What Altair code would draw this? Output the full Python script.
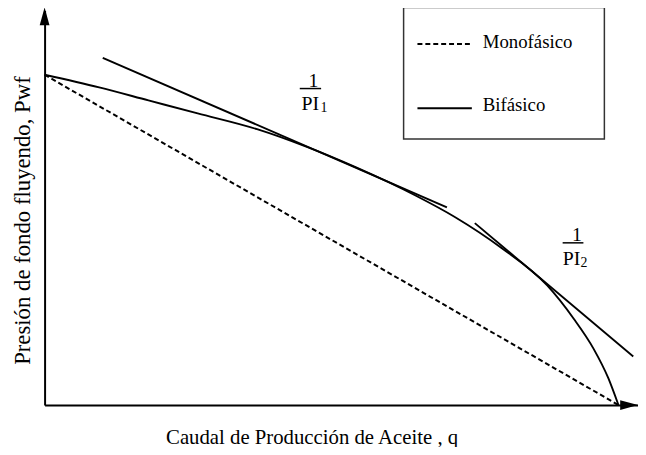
import altair as alt
import pandas as pd

# ---- data (arbitrary units, 0-100) ----
q_mono = [0, 96.7]
pwf_mono = [83.7, 0]

q_bif = [0, 9.2, 17.5, 25.8, 35.8, 44.2, 52.5, 62.5, 69.2, 77.0, 84.7, 89.2, 92.5, 95.0, 96.7]
pwf_bif = [83.7, 80.5, 77.2, 73.9, 69.9, 65.4, 60.2, 53.1, 47.6, 39.8, 30.3, 21.8, 14.3, 6.8, 0]

tangent_ids = ["PI1", "PI1", "PI2", "PI2"]
q_tan = [9.8, 67.8, 72.5, 99.2]
pwf_tan = [88.0, 50.1, 46.1, 12.3]

legend_labels = ["Monofásico", "Bifásico"]
x_title = "Caudal de Producción de Aceite , q"
y_title = "Presión de fondo fluyendo, Pwf"

FONT = "Liberation Serif"

df_mono = pd.DataFrame({"q": q_mono, "pwf": pwf_mono})
df_bif = pd.DataFrame({"q": q_bif, "pwf": pwf_bif})
df_tan = pd.DataFrame({"q": q_tan, "pwf": pwf_tan, "id": tangent_ids})

xs = alt.Scale(domain=[0, 100], nice=False, zero=False)
ys = alt.Scale(domain=[0, 100], nice=False, zero=False)

x_axis = alt.Axis(
    title=x_title, domain=True, domainColor="black", domainWidth=2,
    ticks=False, labels=False, grid=False,
    titleFont=FONT, titleFontSize=21, titleFontWeight="normal", titleColor="black",
    titleX=270, titleY=33, titleAlign="center", titleBaseline="middle",
)
y_axis = alt.Axis(
    title=y_title, domain=True, domainColor="black", domainWidth=2,
    ticks=False, labels=False, grid=False,
    titleFont=FONT, titleFontSize=23, titleFontWeight="normal", titleColor="black",
    titleX=-22, titleY=212, titleAngle=270, titleAlign="center", titleBaseline="middle",
)

mono = alt.Chart(df_mono).mark_line(color="black", strokeWidth=2, strokeDash=[5, 3]).encode(
    x=alt.X("q:Q", scale=xs, axis=x_axis),
    y=alt.Y("pwf:Q", scale=ys, axis=y_axis),
)

bif = alt.Chart(df_bif).mark_line(color="black", strokeWidth=1.9, interpolate="monotone").encode(
    x=alt.X("q:Q", scale=xs),
    y=alt.Y("pwf:Q", scale=ys),
)

tan = alt.Chart(df_tan).mark_line(color="black", strokeWidth=1.9).encode(
    x=alt.X("q:Q", scale=xs),
    y=alt.Y("pwf:Q", scale=ys),
    detail="id:N",
)

# axis arrowheads (tip at the data point)
arrow_y = alt.Chart(pd.DataFrame({"q": [0], "pwf": [100.75]})).mark_point(
    shape="M0,0L0.55,2L-0.55,2Z", size=324, filled=True, color="black", opacity=1
).encode(x=alt.X("q:Q", scale=xs), y=alt.Y("pwf:Q", scale=ys))
arrow_x = alt.Chart(pd.DataFrame({"q": [100], "pwf": [0]})).mark_point(
    shape="M0,0L-2,-0.55L-2,0.55Z", size=324, filled=True, color="black", opacity=1
).encode(x=alt.X("q:Q", scale=xs), y=alt.Y("pwf:Q", scale=ys))

# slope annotations 1/PI1 and 1/PI2
ann_num = pd.DataFrame({"q": [45.3, 89.7], "pwf": [82.0, 43.1], "t": ["1", "1"]})
ann_den = pd.DataFrame({"q": [43.3, 87.3], "pwf": [76.3, 37.0], "t": ["PI", "PI"]})
ann_sub = pd.DataFrame({"q": [46.5, 90.3], "pwf": [75.2, 36.0], "t": ["1", "2"]})
ann_bar = pd.DataFrame({"q": [43.0, 87.3], "q2": [46.6, 90.8], "pwf": [80.2, 41.1]})

num = alt.Chart(ann_num).mark_text(font=FONT, fontSize=20, color="black", baseline="middle", align="center").encode(
    x=alt.X("q:Q", scale=xs), y=alt.Y("pwf:Q", scale=ys), text="t:N")
den = alt.Chart(ann_den).mark_text(font=FONT, fontSize=20, color="black", baseline="middle", align="left").encode(
    x=alt.X("q:Q", scale=xs), y=alt.Y("pwf:Q", scale=ys), text="t:N")
sub = alt.Chart(ann_sub).mark_text(font=FONT, fontSize=14, color="black", baseline="middle", align="left").encode(
    x=alt.X("q:Q", scale=xs), y=alt.Y("pwf:Q", scale=ys), text="t:N")
bar = alt.Chart(ann_bar).mark_rule(color="black", strokeWidth=1.5).encode(
    x=alt.X("q:Q", scale=xs), x2="q2:Q", y=alt.Y("pwf:Q", scale=ys))

# manual legend box
one = pd.DataFrame({"a": [0]})
box = alt.Chart(one).mark_rect(fill="white", stroke="#333333", strokeWidth=1.5).encode(
    x=alt.value(363), x2=alt.value(566), y=alt.value(-3), y2=alt.value(130))
leg_dash = alt.Chart(one).mark_rule(color="black", strokeWidth=2, strokeDash=[5, 3]).encode(
    x=alt.value(377), x2=alt.value(432), y=alt.value(34))
leg_solid = alt.Chart(one).mark_rule(color="black", strokeWidth=2).encode(
    x=alt.value(377), x2=alt.value(432), y=alt.value(99))
leg_t1 = alt.Chart(one).mark_text(font=FONT, fontSize=19, color="black", align="left", baseline="middle",
                                  text=legend_labels[0]).encode(x=alt.value(443), y=alt.value(32))
leg_t2 = alt.Chart(one).mark_text(font=FONT, fontSize=19, color="black", align="left", baseline="middle",
                                  text=legend_labels[1]).encode(x=alt.value(443), y=alt.value(96))

chart = alt.layer(
    mono, bif, tan, arrow_y, arrow_x, num, den, sub, bar,
    box, leg_dash, leg_solid, leg_t1, leg_t2,
).properties(
    width=600, height=399,
    autosize=alt.AutoSizeParams(type="none"),
    padding={"left": 37, "top": 0, "right": 0, "bottom": 40},
    background="white",
).configure_view(stroke=None).configure_text(font=FONT)

chart.save("out.html", embed_options={"renderer": "svg", "actions": False})
